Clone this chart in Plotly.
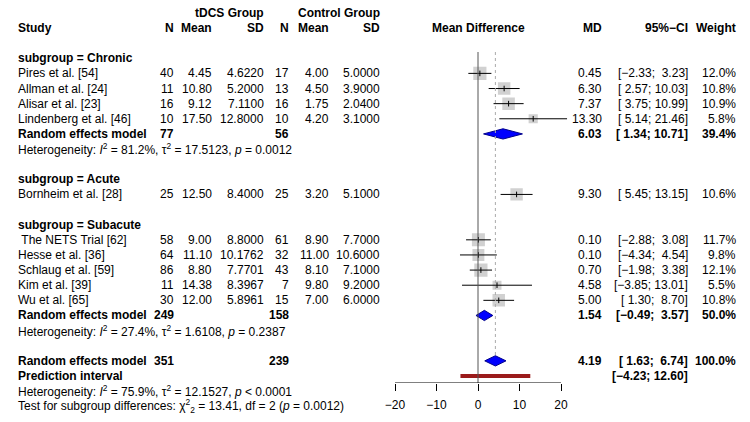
import math
import plotly.graph_objects as go

# ---------------- data ----------------
subgroups = ["Chronic", "Acute", "Subacute"]
study = ["Pires et al. [54]", "Allman et al. [24]", "Alisar et al. [23]", "Lindenberg et al. [46]",
         "Bornheim et al. [28]",
         "\u00a0The NETS Trial [62]", "Hesse et al. [36]", "Schlaug et al. [59]", "Kim et al. [39]", "Wu et al. [65]"]
study_group = [0, 0, 0, 0, 1, 2, 2, 2, 2, 2]
n_e = [40, 11, 16, 10, 25, 58, 64, 86, 11, 30]
mean_e = [4.45, 10.80, 9.12, 17.50, 12.50, 9.00, 11.10, 8.80, 14.38, 12.00]
sd_e = [4.6220, 5.2000, 7.1100, 12.8000, 8.4000, 8.8000, 10.1762, 7.7701, 8.3967, 5.8961]
n_c = [17, 13, 16, 10, 25, 61, 32, 43, 7, 15]
mean_c = [4.00, 4.50, 1.75, 4.20, 3.20, 8.90, 11.00, 8.10, 9.80, 7.00]
sd_c = [5.0000, 3.9000, 2.0400, 3.1000, 5.1000, 7.7000, 10.6000, 7.1000, 9.2000, 6.0000]
md = [0.45, 6.30, 7.37, 13.30, 9.30, 0.10, 0.10, 0.70, 4.58, 5.00]
ci_lo = [-2.33, 2.57, 3.75, 5.14, 5.45, -2.88, -4.34, -1.98, -3.85, 1.30]
ci_hi = [3.23, 10.03, 10.99, 21.46, 13.15, 3.08, 4.54, 3.38, 13.01, 8.70]
weight = [12.0, 10.8, 10.9, 5.8, 10.6, 11.7, 9.8, 12.1, 5.5, 10.8]

# subgroup random effects (None = single study, no pooled row)
sg_n_e = [77, None, 249]
sg_n_c = [56, None, 158]
sg_md = [6.03, None, 1.54]
sg_lo = [1.34, None, -0.49]
sg_hi = [10.71, None, 3.57]
sg_w = [39.4, None, 50.0]
sg_het = [("81.2%", "17.5123", "= 0.0012"), None, ("27.4%", "1.6108", "= 0.2387")]

tot_n_e, tot_n_c = 351, 239
tot_md, tot_lo, tot_hi, tot_w = 4.19, 1.63, 6.74, 100.0
pi_lo, pi_hi = -4.23, 12.60
tot_het = ("75.9%", "12.1527", "< 0.0001")
test_chi, test_df, test_p = "13.41", "2", "0.0012"

axis_ticks = [-20, -10, 0, 10, 20]

# ---------------- layout helpers ----------------
W, H = 750, 422
ROW0, ROWH = 28.0, 15.13          # pixel y of row 0, row height
AXIS_PX = 383.0                   # pixel y of the x axis line
ZERO_PX, SCALE = 478.0, 4.15      # pixel x of 0, px per unit
FONT = "Liberation Sans, Arial, sans-serif"
FS = 12.0
FS_HET = 12.0

def row_of_px(p):
    return (p - ROW0) / ROWH

def paper_y(row):
    return 1 - (ROW0 + row * ROWH) / H

y_top = row_of_px(0)
y_bot = row_of_px(AXIS_PX)
xr = [-25, 25]
dom = [(ZERO_PX + xr[0] * SCALE) / W, (ZERO_PX + xr[1] * SCALE) / W]

# column right edges (px)
C_NE, C_ME, C_SE, C_NC, C_MC, C_SC = 176, 214, 266, 291, 331, 382
C_MD, C_CI, C_W = 604, 690, 738
C_STUDY = 16

NB = "\u00a0"
def fmt_ci(lo, hi):
    a = f"{lo:.2f}".replace("-", "\u2212")
    b = f"{hi:.2f}".replace("-", "\u2212")
    a = NB * (5 - len(f"{lo:.2f}")) + a
    b = NB * (5 - len(f"{hi:.2f}")) + b
    return f"[{a};{NB}{b}]"

ann = []
def txt(px, row, s, anchor="right", bold=False, size=FS):
    if bold:
        s = f"<b>{s}</b>"
    ann.append(dict(x=px / W, xref="paper", y=paper_y(row), yref="paper", text=s, showarrow=False,
                    xanchor=anchor, yanchor="middle", font=dict(family=FONT, size=size, color="black")))

def het_text(h):
    i2, t2, p = h
    return (f"Heterogeneity: <i>I</i><sup>2</sup> = {i2}, \u03c4<sup>2</sup> = {t2}, "
            f"<i>p</i> {p}")

# headers
txt(C_SE, -1, "tDCS Group", bold=True)
txt(C_SC, -1, "Control Group", bold=True)
txt(C_STUDY, 0, "Study", anchor="left", bold=True)
for px, s in [(C_NE, "N"), (C_ME, "Mean"), (C_SE, "SD"), (C_NC, "N"), (C_MC, "Mean"), (C_SC, "SD"),
              (C_MD, "MD"), (C_CI, "95%\u2212CI"), (C_W, "Weight")]:
    txt(px, 0, s, bold=True)
ann.append(dict(x=0, xref="x", y=paper_y(0), yref="paper", text="<b>Mean Difference</b>", showarrow=False,
                xanchor="center", yanchor="middle", font=dict(family=FONT, size=FS, color="black")))

# rows
study_rows = []
diamonds = []   # (row, md, lo, hi)
row = 2
for g, name in enumerate(subgroups):
    txt(C_STUDY, row, f"subgroup = {name}", anchor="left", bold=True)
    row += 1
    for i in range(len(study)):
        if study_group[i] != g:
            continue
        study_rows.append(row)
        txt(C_STUDY, row, study[i], anchor="left")
        txt(C_NE, row, str(n_e[i]))
        txt(C_ME, row, f"{mean_e[i]:.2f}")
        txt(C_SE, row, f"{sd_e[i]:.4f}")
        txt(C_NC, row, str(n_c[i]))
        txt(C_MC, row, f"{mean_c[i]:.2f}")
        txt(C_SC, row, f"{sd_c[i]:.4f}")
        txt(C_MD, row, f"{md[i]:.2f}")
        txt(C_CI, row, fmt_ci(ci_lo[i], ci_hi[i]))
        txt(C_W, row, f"{weight[i]:.1f}%")
        row += 1
    if sg_md[g] is not None:
        txt(C_STUDY, row, "Random effects model", anchor="left", bold=True)
        txt(C_NE, row, str(sg_n_e[g]), bold=True)
        txt(C_NC, row, str(sg_n_c[g]), bold=True)
        txt(C_MD, row, f"{sg_md[g]:.2f}", bold=True)
        txt(C_CI, row, fmt_ci(sg_lo[g], sg_hi[g]), bold=True)
        txt(C_W, row, f"{sg_w[g]:.1f}%", bold=True)
        diamonds.append((row, sg_md[g], sg_lo[g], sg_hi[g]))
        row += 1
        txt(C_STUDY, row, het_text(sg_het[g]), anchor="left", size=FS_HET)
        row += 1
    row += 1

# overall
txt(C_STUDY, row, "Random effects model", anchor="left", bold=True)
txt(C_NE, row, str(tot_n_e), bold=True)
txt(C_NC, row, str(tot_n_c), bold=True)
txt(C_MD, row, f"{tot_md:.2f}", bold=True)
txt(C_CI, row, fmt_ci(tot_lo, tot_hi), bold=True)
txt(C_W, row, f"{tot_w:.1f}%", bold=True)
diamonds.append((row, tot_md, tot_lo, tot_hi))
tot_row = row
row += 1
txt(C_STUDY, row, "Prediction interval", anchor="left", bold=True)
txt(C_CI, row, fmt_ci(pi_lo, pi_hi), bold=True)
pi_row = row
row += 1
txt(C_STUDY, row, het_text(tot_het), anchor="left", size=FS_HET)
row += 1
txt(C_STUDY, row, f"Test for subgroup differences: \u03c7<sup>2</sup><sub>{test_df}</sub> = {test_chi}, df = {test_df} "
                  f"(<i>p</i> = {test_p})", anchor="left", size=FS_HET)

# ---------------- traces ----------------
fig = go.Figure()
DH = 0.34  # diamond half height in rows

# reference lines
fig.add_shape(type="line", x0=0, x1=0, y0=row_of_px(52), y1=y_bot, xref="x", yref="y",
              line=dict(color="#555555", width=1))
fig.add_shape(type="line", x0=tot_md, x1=tot_md, y0=row_of_px(52), y1=tot_row - DH, xref="x", yref="y",
              line=dict(color="#AAAAAA", width=1, dash="dot"))
fig.add_shape(type="line", x0=axis_ticks[0], x1=axis_ticks[-1], y0=y_bot, y1=y_bot, xref="x", yref="y",
              line=dict(color="black", width=1))

# squares
K = 3.8
fig.add_trace(go.Scatter(x=md, y=study_rows, mode="markers",
                         marker=dict(symbol="square", size=[K * math.sqrt(w) for w in weight],
                                     color="#BEBEBE", line=dict(width=0)),
                         hoverinfo="skip", showlegend=False))
# CI lines
lx, ly = [], []
for r, lo, hi in zip(study_rows, ci_lo, ci_hi):
    lx += [lo, hi, None]
    ly += [r, r, None]
fig.add_trace(go.Scatter(x=lx, y=ly, mode="lines", line=dict(color="black", width=1),
                         hoverinfo="skip", showlegend=False))
fig.add_trace(go.Scatter(x=md, y=study_rows, mode="markers",
                         marker=dict(symbol="line-ns", size=4, line=dict(color="black", width=1)),
                         hoverinfo="skip", showlegend=False))
# diamonds
for r, m, lo, hi in diamonds:
    fig.add_trace(go.Scatter(x=[lo, m, hi, m, lo], y=[r, r - DH, r, r + DH, r], mode="lines",
                             fill="toself", fillcolor="#0000FF", line=dict(color="#00008B", width=1),
                             hoverinfo="skip", showlegend=False))
# prediction interval
fig.add_trace(go.Scatter(x=[pi_lo, pi_hi], y=[pi_row, pi_row], mode="lines",
                         line=dict(color="#9B1B1B", width=4), hoverinfo="skip", showlegend=False))

fig.update_layout(
    width=W, height=H, margin=dict(l=0, r=0, t=0, b=0),
    paper_bgcolor="white", plot_bgcolor="white",
    annotations=ann,
    xaxis=dict(domain=dom, range=xr, tickvals=axis_ticks,
               ticktext=[str(v).replace("-", "\u2212") for v in axis_ticks],
               ticks="outside", ticklen=7, tickcolor="black", tickwidth=1,
               showgrid=False, zeroline=False, showline=False, fixedrange=True,
               tickfont=dict(family=FONT, size=FS, color="black"), ticklabelstandoff=4),
    yaxis=dict(domain=[1 - AXIS_PX / H, 1], range=[y_bot, y_top], visible=False,
               showgrid=False, zeroline=False, fixedrange=True),
    showlegend=False,
)
fig.write_html("out.html")
